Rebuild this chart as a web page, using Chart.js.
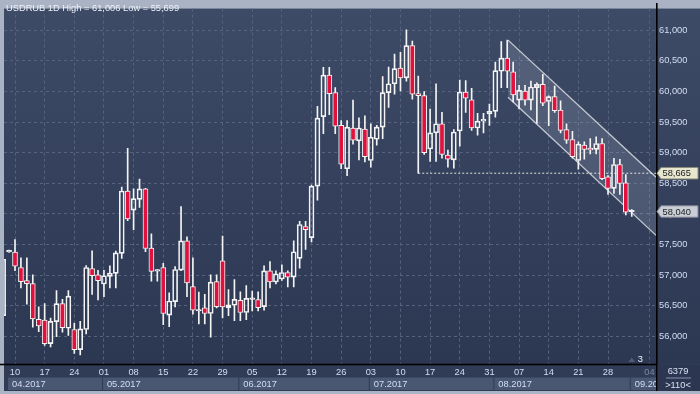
<!DOCTYPE html>
<html><head><meta charset="utf-8">
<script src="https://cdn.jsdelivr.net/npm/chart.js@4.4.1/dist/chart.umd.min.js"></script>
<style>
html,body{margin:0;padding:0;background:#aab3c4;overflow:hidden}
canvas{display:block}
</style></head><body>
<canvas id="c" width="700" height="394"></canvas>
<script>
// ---- data (USDRUB daily, 06.04.2017 .. 01.09.2017, one entry per trading day) ----
const open  = [56340,57380,57377,57125,56910,56862,56278,56267,55882,56240,56535,56133,56112,55785,56112,57109,57007,56856,56980,57028,
               57356,58374,58062,58237,58408,57442,57065,57125,56348,56567,57082,57559,56814,56415,56466,56374,56895,57233,56471,56508,
               56589,56390,56605,56600,56487,57071,56889,56937,57044,56969,57275,57795,57612,58454,59590,60266,59982,59446,58738,59403,
               59194,59387,58872,59220,59419,59982,60126,60384,60223,60748,59965,59933,59060,59323,59472,58963,58883,59355,59992,59864,
               59403,59515,59633,59676,60330,60544,60319,59858,60008,59858,60062,60116,59837,59917,59698,59376,59215,58872,59124,59050,
               59054,59151,58604,58417,58808,58508,58035];
const high  = [57382,57410,57580,57285,57285,57007,56484,56535,56300,56750,56605,56750,56213,56245,57157,57398,57080,57080,57152,57393,
               58440,59070,58408,58569,58420,57677,57090,57195,56712,57141,58122,57624,57285,56723,56686,57007,57007,57640,56766,56927,
               56728,56830,56739,56728,57152,57221,57071,57168,57071,57559,57880,57880,58470,59756,60394,60394,60062,59526,59526,59858,
               59569,59601,59473,59446,60244,60400,60609,60641,61006,60823,60250,59998,59714,60126,59660,59044,59376,60185,60180,60051,
               59644,59644,59794,60480,60815,60840,60480,60100,60100,60169,60142,60280,59928,60089,59848,59472,59349,59178,59178,59231,
               59258,59231,58626,58910,58893,58641,58070];
const low   = [56300,57370,57072,56792,56525,56150,56078,55854,55827,55997,56069,56015,55720,55699,56040,56686,56594,56647,56792,56792,
               57275,57892,57745,58105,57382,56900,56900,56192,56160,56482,57072,56647,56363,56203,56203,55986,56466,56300,56337,56256,
               56256,56272,56417,56417,56428,56792,56857,56916,56808,56808,57114,57420,57543,58224,59312,59623,59312,58738,58625,59140,
               58883,58850,58765,59124,59231,59740,59955,60008,60169,59874,58665,58974,58856,58856,58910,58765,58749,59108,59660,59365,
               59285,59322,59446,59580,60062,60062,59830,59714,59778,59698,59480,59770,59440,59660,59322,59151,58910,58733,58894,58979,
               58979,58561,58320,58336,58320,57982,57960];
const close = [57260,57400,57146,56895,56862,56284,56171,55882,56245,56535,56144,56658,55785,56123,57125,56991,56910,56990,57034,57363,
               58374,57918,58249,58408,57435,57061,57080,56374,56578,57093,57559,56873,56428,56428,56374,56884,56487,56482,56514,56605,
               56390,56621,56615,56471,57071,56889,57023,57044,56969,57382,57827,57741,58454,59564,60266,59966,59435,58813,59419,59204,
               59403,58936,59253,59419,59982,60126,60373,60223,60748,59955,59933,59001,59323,59473,58974,58894,59338,59992,59891,59403,
               59515,59547,59676,60341,60544,60330,59944,60019,59858,60073,60116,59810,59917,59687,59365,59204,58936,59140,59054,59045,
               59151,58577,58417,58808,58497,58030,58040];

// weekly tick positions (trading-day index; the last one lies in the calendar-day future zone)
const tickIndex  = [2,7,12,17,22,27,32,37,42,47,52,57,62,67,72,77,82,87,92,97,102,109];
const tickLabels = ["10","17","24","01","08","15","22","29","05","12","19","26","03","10","17","24","31","07","14","21","28","04"];
const monthLabels = ["04.2017","05.2017","06.2017","07.2017","08.2017","09.2017"];
const monthStart  = [1,17,40,62,83,106];
const priceTicks  = [56000,56500,57000,57500,58000,58500,59000,59500,60000,60500,61000];

// drawn objects
const channelX     = [85.14, 110.1];
const channelUpper = [60839, 58600];
const channelLower = [59907, 57650];
const supportX     = [70, 110.1];
const supportLevel = 58665;
const lastPrice    = 58040;
const titleText    = "USDRUB 1D High = 61,006 Low = 55,699";
const barsOnScreen = "6379";
const barsCount    = ">110<";
const markerText   = "3";

// ---- style ----
const FONT = "'Liberation Sans', Arial, sans-serif";
const FS = 9.3;
const RED = '#e0123d';
const WHITE = '#f4f4f4';
const GRID = '#56637f';
const TXT = '#d3def3';
const X_MIN = 0.145, X_MAX = 110.09;
const Y_MIN = 55549, Y_MAX = 61354;

const idx = open.map((_, i) => i);
const bodyData = idx.map(i => ({x: i, y: [open[i], close[i]]}));
const upWick   = idx.map(i => ({x: i, y: [Math.max(open[i], close[i]), high[i]]}));
const loWick   = idx.map(i => ({x: i, y: [low[i], Math.min(open[i], close[i])]}));

Chart.defaults.font.family = FONT;
Chart.defaults.font.size = FS;

const bgPlugin = {
  id: 'bg',
  beforeDraw(chart) {
    const ctx = chart.ctx, a = chart.chartArea;
    ctx.save();
    ctx.fillStyle = '#aab3c4';
    ctx.fillRect(0, 0, 700, 394);
    const g = ctx.createLinearGradient(0, a.top, 0, a.bottom);
    g.addColorStop(0, '#3e4b66');
    g.addColorStop(1, '#2c3752');
    ctx.fillStyle = g;
    ctx.fillRect(a.left, a.top, 700 - a.left, a.bottom - a.top);
    ctx.fillStyle = '#303b56';
    ctx.fillRect(a.left, a.bottom, 700 - a.left, 391 - a.bottom);
    ctx.restore();
  }
};

const overlayPlugin = {
  id: 'overlay',
  afterDraw(chart) {
    const ctx = chart.ctx, a = chart.chartArea;
    const xs = chart.scales.x, ys = chart.scales.y;
    ctx.save();
    ctx.font = FS + 'px ' + FONT;
    // month boxes
    ctx.save();
    ctx.beginPath(); ctx.rect(a.left, a.bottom, a.right - a.left, 30); ctx.clip();
    for (let m = 0; m < monthLabels.length; m++) {
      const x0 = xs.getPixelForValue(monthStart[m]) - 1;
      const x1 = m + 1 < monthLabels.length ? xs.getPixelForValue(monthStart[m + 1]) - 2 : a.right;
      ctx.fillStyle = '#4a5772';
      ctx.fillRect(x0, 377.5, x1 - x0, 12.5);
      ctx.fillStyle = TXT;
      ctx.textAlign = 'left'; ctx.textBaseline = 'middle';
      ctx.fillText(monthLabels[m], x0 + 4, 384);
    }
    ctx.restore();
    // axis lines
    ctx.fillStyle = '#000000';
    ctx.fillRect(0, a.bottom - 0.3, a.right, 1.6);
    ctx.fillRect(a.right, 3, 1.6, 388);
    // marker under last bar
    const mx = xs.getPixelForValue(open.length - 1);
    ctx.fillStyle = '#4f5b77';
    ctx.beginPath(); ctx.moveTo(mx - 3.5, 362); ctx.lineTo(mx, 357.5); ctx.lineTo(mx + 3.5, 362); ctx.closePath(); ctx.fill();
    ctx.fillStyle = '#f0f0f0'; ctx.textAlign = 'center'; ctx.textBaseline = 'middle';
    ctx.fillText(markerText, mx + 8.5, 359);
    // price tags
    function tag(v, text, fill, stroke) {
      const y = ys.getPixelForValue(v);
      const x0 = a.right + 1, x1 = x0 + 4, x2 = 698, h = 11.5;
      ctx.beginPath();
      ctx.moveTo(x0, y); ctx.lineTo(x1, y - h / 2); ctx.lineTo(x2, y - h / 2);
      ctx.lineTo(x2, y + h / 2); ctx.lineTo(x1, y + h / 2); ctx.closePath();
      ctx.fillStyle = fill; ctx.fill();
      ctx.strokeStyle = stroke; ctx.lineWidth = 1; ctx.stroke();
      ctx.fillStyle = '#1c1c1c'; ctx.textAlign = 'left'; ctx.textBaseline = 'middle';
      ctx.fillText(text, x1 + 1.5, y + 0.5);
    }
    tag(supportLevel, supportLevel.toLocaleString('en-US'), '#e7e6cf', '#8c8c78');
    tag(lastPrice, lastPrice.toLocaleString('en-US'), '#c9cdd6', '#7d8290');
    // bottom-right info box
    ctx.fillStyle = '#2c3650';
    ctx.fillRect(a.right + 1.6, a.bottom + 1.3, 700 - a.right, 391 - a.bottom - 1.3);
    ctx.fillStyle = '#d8e1f3'; ctx.textAlign = 'center'; ctx.textBaseline = 'middle';
    ctx.fillText(barsOnScreen, 678, 371.5);
    ctx.fillText(barsCount, 678, 385);
    ctx.fillStyle = '#8391ad';
    ctx.fillRect(666, 377.5, 25, 1);
    // title
    ctx.fillStyle = '#eef2f9'; ctx.textAlign = 'left'; ctx.textBaseline = 'middle';
    ctx.fillText(titleText, 6, 8.5);
    ctx.restore();
  }
};

new Chart(document.getElementById('c'), {
  type: 'bar',
  data: {
    datasets: [
      { type: 'line', data: channelX.map((x, k) => ({x, y: channelUpper[k]})),
        borderColor: 'rgba(214,216,222,0.9)', borderWidth: 1.3, pointRadius: 0,
        fill: '+1', backgroundColor: 'rgba(200,210,232,0.17)', order: 10 },
      { type: 'line', data: channelX.map((x, k) => ({x, y: channelLower[k]})),
        borderColor: 'rgba(214,216,222,0.9)', borderWidth: 1.3, pointRadius: 0,
        fill: false, order: 10 },
      { type: 'line', data: supportX.map(x => ({x, y: supportLevel})),
        borderColor: '#e4e4e4', borderWidth: 1, borderDash: [2, 2], pointRadius: 0,
        fill: false, order: 9 },
      { data: upWick, backgroundColor: WHITE, barThickness: 1, grouped: false, order: 5 },
      { data: loWick, backgroundColor: WHITE, barThickness: 1, grouped: false, order: 5 },
      { data: bodyData,
        backgroundColor: c => (close[c.dataIndex] < open[c.dataIndex] ? RED : 'rgba(0,0,0,0)'),
        borderColor: WHITE, borderWidth: 1, borderSkipped: false,
        barThickness: 5, minBarLength: 1.5, grouped: false, order: 1 }
    ]
  },
  options: {
    responsive: false, animation: false, devicePixelRatio: 1,
    layout: { padding: { left: 4, top: 3, right: 0, bottom: 0 } },
    plugins: { legend: { display: false }, tooltip: { enabled: false }, title: { display: false } },
    events: [],
    scales: {
      x: {
        type: 'linear', min: X_MIN, max: X_MAX, offset: false,
        grid: { color: GRID, lineWidth: 1, drawTicks: false, offset: false },
        border: { display: false, dash: [3, 3] },
        afterBuildTicks: s => { s.ticks = tickIndex.map(v => ({value: v})); },
        afterFit: s => { s.height = 30; },
        ticks: {
          autoSkip: false, maxRotation: 0, padding: 3,
          color: c => (c.index === tickIndex.length - 1 ? '#7b87a2' : TXT),
          callback: (v, i) => tickLabels[i]
        }
      },
      y: {
        type: 'linear', position: 'right', min: Y_MIN, max: Y_MAX,
        grid: { color: GRID, lineWidth: 1, drawTicks: false },
        border: { display: false, dash: [3, 3] },
        afterBuildTicks: s => { s.ticks = priceTicks.map(v => ({value: v})); },
        afterFit: s => { s.width = 44; },
        ticks: { padding: 3, color: TXT, callback: v => v.toLocaleString('en-US') }
      }
    }
  },
  plugins: [bgPlugin, overlayPlugin]
});
</script>
</body></html>
